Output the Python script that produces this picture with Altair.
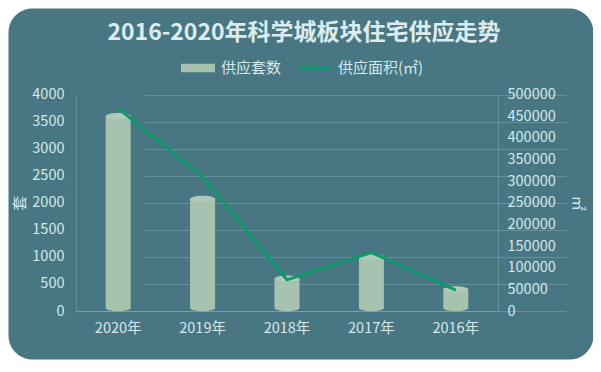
import altair as alt
import pandas as pd

years = ["2020年", "2019年", "2018年", "2017年", "2016年"]
units = [3600, 2070, 600, 1000, 400]
areas = [468000, 310000, 72000, 135000, 48000]
series_names = ["供应套数", "供应面积(㎡)"]
left_ticks = [0, 500, 1000, 1500, 2000, 2500, 3000, 3500, 4000]
right_ticks = [0, 50000, 100000, 150000, 200000, 250000, 300000, 350000, 400000, 450000, 500000]
title_text = ["2016-2020年科学城板块住宅供应走势"]

FONT = "Noto Sans CJK SC"
CARD = "#487682"
TXT = "#d4e9ec"
BAR = "#a8c2b0"
BAR_TOP = "#b0c9b8"
LINE = "#0b9a6b"
GRID = "#66909a"

df = pd.DataFrame({"year": years, "units": units, "area": areas, "zero": [0] * len(years)})
legend_df = pd.DataFrame({"series": series_names})
title_df = pd.DataFrame({"t": title_text})

X_RANGE = [68, 490]
Y_RANGE = [303, 86.5]

ellipse = "M-1,0 A1,0.25 0 1,0 1,0 A1,0.25 0 1,0 -1,0 Z"
rect_sym = "M-1,-0.25 H1 V0.25 H-1 Z"
line_sym = "M-1,-0.09 H1 V0.09 H-1 Z"

xenc = alt.X("year:N", sort=years, title=None,
             scale=alt.Scale(range=X_RANGE, paddingInner=0, paddingOuter=0))
left_scale = alt.Scale(domain=[0, 4000], range=Y_RANGE)
left_axis = alt.Axis(title="套", values=left_ticks, grid=True, orient="left", format="d")

bars = alt.Chart(df).mark_bar(width=25, color=BAR, y2Offset=-3).encode(
    x=xenc,
    y=alt.Y("units:Q", scale=left_scale, axis=left_axis, title="套"),
    y2=alt.Y2("zero:Q"),
)
bottoms = alt.Chart(df).mark_point(shape=ellipse, size=625, filled=True, opacity=1,
                                   color=BAR, strokeWidth=0, yOffset=-3).encode(
    x=xenc,
    y=alt.Y("zero:Q", scale=left_scale, axis=left_axis, title="套"),
)
tops = alt.Chart(df).mark_point(shape=ellipse, size=625, filled=True, opacity=1,
                                color=BAR_TOP, strokeWidth=0).encode(
    x=xenc,
    y=alt.Y("units:Q", scale=left_scale, axis=left_axis, title="套"),
)
left_group = alt.layer(bars, bottoms, tops)

line = alt.Chart(df).mark_line(color=LINE, strokeWidth=3).encode(
    x=xenc,
    y=alt.Y("area:Q", scale=alt.Scale(domain=[0, 500000], range=Y_RANGE),
            axis=alt.Axis(title="㎡", values=right_ticks, grid=False, orient="right", format="d")),
)

leg = dict(orient="none", legendX=173, legendY=43, direction="horizontal",
           title=None, labelColor=TXT, labelFontSize=15, labelFont=FONT,
           symbolSize=1156, symbolStrokeWidth=0, labelOffset=6,
           columnPadding=16, padding=0)

legend_layer = alt.Chart(legend_df).mark_point(filled=True, opacity=1, strokeWidth=0, clip=True).encode(
    x=alt.value(-500),
    y=alt.value(-500),
    color=alt.Color("series:N", sort=series_names,
                    scale=alt.Scale(domain=series_names, range=[BAR, LINE]),
                    legend=alt.Legend(**leg)),
    shape=alt.Shape("series:N", sort=series_names,
                    scale=alt.Scale(domain=series_names, range=[rect_sym, line_sym]),
                    legend=alt.Legend(**leg)),
)

title_layer = alt.Chart(title_df).mark_text(
    font=FONT, fontSize=23, fontWeight="bold", color="#dcebed",
    align="center", baseline="middle",
).encode(
    text="t:N",
    x=alt.value(296),
    y=alt.value(25),
)

chart = alt.layer(left_group, line, legend_layer, title_layer).resolve_scale(y="independent").properties(
    width=585,
    height=351,
    autosize=alt.AutoSizeParams(type="none"),
    padding={"left": 0, "top": 0, "right": 0, "bottom": 5},
    background="white",
).configure_view(
    fill=CARD, stroke="transparent", cornerRadius=24,
).configure_axis(
    labelFont=FONT, titleFont=FONT, labelColor=TXT, titleColor=TXT,
    labelFontSize=14.5, titleFontSize=15, titleFontWeight="normal",
    ticks=False, tickSize=0, gridColor=GRID, gridWidth=1, domainColor=GRID,
    labelOverlap=False,
).configure_axisLeft(
    offset=-68, labelPadding=12, titlePadding=4, titleAngle=-90,
).configure_axisRight(
    offset=-95, labelPadding=9, titlePadding=14,
).configure_axisBottom(
    offset=-48, labelPadding=10, labelAngle=0, domainColor="#7ba0aa",
)

chart.save("out.html", embed_options={"renderer": "svg", "actions": False})
